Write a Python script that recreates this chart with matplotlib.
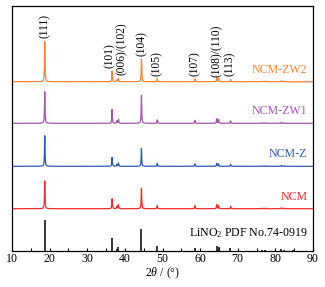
import numpy as np
import matplotlib
matplotlib.use('Agg')
import matplotlib.pyplot as plt

plt.rcParams['font.family'] = 'Liberation Serif'
plt.rcParams['mathtext.fontset'] = 'custom'
plt.rcParams['mathtext.rm'] = 'Liberation Serif'
plt.rcParams['mathtext.it'] = 'Liberation Serif:italic'

# peak positions (2theta, deg)
peak_pos = [18.7, 36.6, 37.9, 38.3, 44.4, 48.6, 58.6, 64.4, 64.9, 68.1, 76.6, 77.4, 81.6, 82.3]

# peak heights per sample (arb. units)
ncm_zw2 = [40, 10.7, 2.0, 3.0, 22.7, 3.0, 3.0, 4.0, 3.5, 2.0, 0.6, 0.6, 1.0, 0.6]
ncm_zw1 = [31.6, 14.0, 2.5, 4.0, 28.0, 3.5, 3.0, 4.5, 4.0, 2.5, 0.6, 0.6, 1.0, 0.6]
ncm_z = [30.6, 9.0, 2.0, 3.3, 18.0, 3.0, 2.5, 3.0, 2.5, 2.0, 0.6, 0.6, 1.0, 0.6]
ncm = [27.7, 10.0, 2.5, 4.0, 20.0, 3.0, 3.0, 4.0, 3.5, 2.5, 0.6, 0.6, 1.0, 0.6]

# reference card LiNO2 PDF No.74-0919
ref_pos = [18.7, 36.6, 37.8, 38.2, 44.4, 48.6, 58.6, 64.4, 64.9, 68.0, 76.4, 77.3, 81.6, 82.2, 84.7]
ref_int = [31, 13, 2, 4, 22, 5, 3, 5, 4, 3, 1, 1, 2, 1, 1]

names = ['NCM', 'NCM-Z', 'NCM-ZW1', 'NCM-ZW2']
colors = ['#EE2C2C', '#2B5BAE', '#A555AE', '#F5843A']
offsets = [42, 84.4, 127.4, 169]

hkl = ['(111)', '(101)', '(006)/(102)', '(104)', '(105)', '(107)', '(108)/(110)', '(113)']
hkl_x = [18.6, 36.0, 39.1, 44.4, 48.5, 58.7, 64.4, 68.0]
hkl_y = [213, 183, 176, 195, 175, 175, 174, 175]

x = np.linspace(10, 90, 8000)
w = 0.08


def pattern(heights):
    y = np.zeros_like(x)
    for p, h in zip(peak_pos, heights):
        y += h / (1 + ((x - p) / w) ** 2)
    return y


fig = plt.figure(figsize=(3.25, 2.87), dpi=100)
ax = fig.add_axes([0.037, 0.1265, 0.926, 0.8525])

ax.vlines(ref_pos, 0, ref_int, color='black', lw=1.1)
for data, name, c, off in zip([ncm, ncm_z, ncm_zw1, ncm_zw2], names, colors, offsets):
    ax.plot(x, pattern(data) + off, color=c, lw=0.9)
    ax.text(88.5, off + 6, name, color=c, fontsize=8.6, ha='right', va='bottom')

ax.text(88.5, 11, r'LiNO$_2$ PDF No.74-0919', color='black', fontsize=8.6, ha='right', va='bottom')

for lab, lx, ly in zip(hkl, hkl_x, hkl_y):
    ax.text(lx, ly, lab, rotation=90, fontsize=8.3, ha='center', va='bottom')

ax.set_xlim(10, 90)
ax.set_ylim(0, 244.7)
ax.set_xticks(range(10, 91, 10))
ax.set_xticks(range(15, 90, 10), minor=True)
ax.set_yticks([])
ax.tick_params(axis='x', which='both', direction='in', length=2.5, width=0.8, labelsize=8.6, pad=2)
for s in ax.spines.values():
    s.set_linewidth(0.9)
ax.set_xlabel(r'2$\it{\theta}$ / (°)', fontsize=8.6, labelpad=0)

fig.savefig('out.png', dpi=100)
